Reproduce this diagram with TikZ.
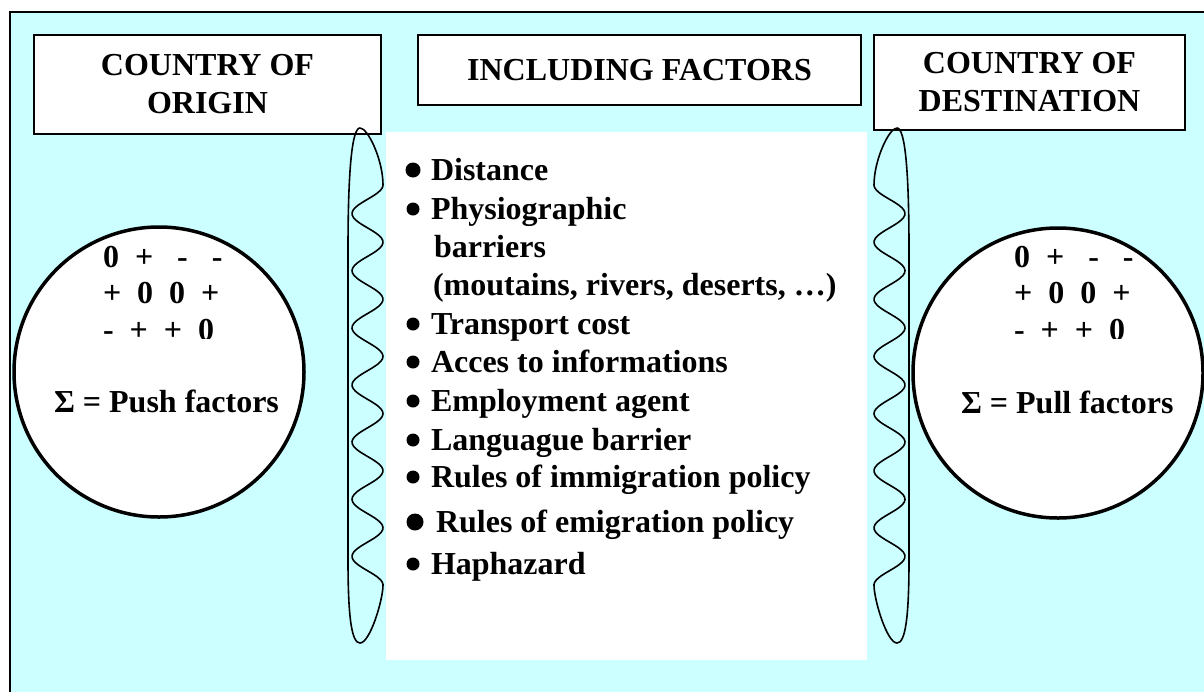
\documentclass[tikz,border=0pt]{standalone}
\usepackage{fontspec}
\setmainfont{Liberation Serif}
\usepackage{tikz}

\definecolor{seabg}{HTML}{CCFFFF}

\begin{document}
\begin{tikzpicture}[x=1pt,y=-1pt,line width=2pt,
    titlebox/.style={draw,fill=white,align=center,inner sep=0pt,
      font=\fontsize{32}{38}\selectfont\bfseries},
    item/.style={anchor=base west,inner sep=0pt,
      font=\fontsize{32}{38}\selectfont\bfseries},
    balance/.style={circle,draw,fill=white,line width=3.5pt,minimum size=290pt}]

  % page and the light blue sheet behind everything
  \clip (0,0) rectangle (1204,691);
  \draw[fill=seabg] (10,12) rectangle (1230,720);

  % white panel for the list of factors
  \fill[white] (386,132) rectangle (867,660);

  % The three headings
  \node[titlebox,minimum width=347pt,minimum height=99pt] (origin)
    at (207.5,84.5) {COUNTRY OF\\ORIGIN};
  \node[titlebox,minimum width=443pt,minimum height=70pt] (including)
    at (639.5,70) {INCLUDING FACTORS};
  \node[titlebox,minimum width=311pt,minimum height=95pt] (destination)
    at (1029.5,82.5) {COUNTRY OF\\DESTINATION};

  % push and pull circles
  \node[balance] (push) at (159,372) {};
  \node[balance] (pull) at (1058,373) {};

  \begin{scope}
    \clip (0,0) rectangle (1204,338);
    \node[item] (pushA) at (102,267) {0~~+~~~-~~~-};
    \node[item] (pushB) at (102,303) {+~~0~~0~~+};
    \node[item] (pushC) at (102,340) {-~~+~~+~~0};
    \node[item] (pullA) at (1013,267) {0~~+~~~-~~~-};
    \node[item] (pullB) at (1013,303) {+~~0~~0~~+};
    \node[item] (pullC) at (1013,340) {-~~+~~+~~0};
  \end{scope}
  \node[item] (pushsum) at (53,412) {Σ = Push factors};
  \node[item] (pullsum) at (960,413) {Σ = Pull factors};

  % Wavy barriers, the right one is the mirror of the left one
  \foreach \flip/\off in {1/0,-1/1257}{
    \begin{scope}[xshift=\off pt,xscale=\flip,line width=1.6pt]
      \draw (360,128) .. controls (352,128) and (348,170) .. (348,250)
        -- (348,560) .. controls (348,620) and (352,643) .. (360,643)
        .. controls (370,643) and (383,600) .. (383,585)
        -- plot[domain=585:185,samples=160,smooth]
           ({367.5+15.5*cos((\x-185)/57.143*360)},\x)
        .. controls (383,160) and (368,128) .. (360,128);
    \end{scope}
  }

  % list of factors
  \fill (413,170) circle (7.5pt);
  \node[item] (f0) at (430,180) {Distance};
  \foreach \yb/\txt [count=\i] in {219/Physiographic,334/Transport cost,
      372/Acces to informations,411/Employment agent,450/Languague barrier,
      487/Rules of immigration policy,574/Haphazard}{
    \fill (413,\yb-10) circle (6.5pt);
    \node[item] (f\i) at (430,\yb) {\txt};
  }
  \node[item] (barriers) at (433,257) {barriers};
  \node[item] (examples) at (432,295) {(moutains, rivers, deserts, …)};
  \fill (415,522) circle (8.5pt);
  \node[item] (emig) at (435,532) {Rules of emigration policy};

\end{tikzpicture}
\end{document}
